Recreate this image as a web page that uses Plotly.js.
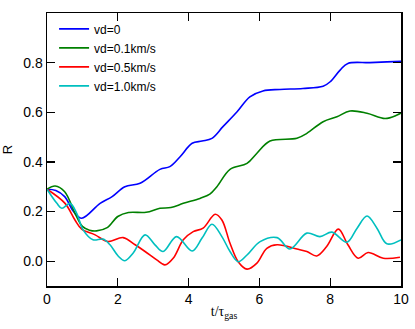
<!DOCTYPE html>
<html lang="en">
<head>
    <meta charset="UTF-8">
    <title>R vs t</title>
    <script src="https://cdn.plot.ly/plotly-3.0.1.min.js"></script>
    <style>
        body { margin: 0; padding: 0; background: #fff; }
        #grafico { width: 415px; height: 329px; }
    </style>
</head>
<body>
    <div id="grafico"></div>
    <script>
        // vd=0
        const tBlue = [0, 0.25, 0.5, 0.75, 0.98, 1.5, 1.84, 2.2, 2.63, 3.19, 3.47, 3.76, 4.1, 4.38, 4.66, 4.97, 5.37, 5.73, 6.1, 6.58, 7.23, 7.8, 8.0, 8.28, 8.5, 9.12, 9.6, 10];
        const rBlue = [0.29, 0.285, 0.26, 0.2, 0.173, 0.233, 0.26, 0.3, 0.314, 0.37, 0.381, 0.421, 0.475, 0.484, 0.495, 0.542, 0.602, 0.662, 0.686, 0.692, 0.696, 0.705, 0.723, 0.77, 0.797, 0.8, 0.803, 0.805];

        // vd=0.1km/s
        const tGreen = [0, 0.23, 0.5, 0.8, 1.0, 1.2, 1.4, 1.7, 2.0, 2.3, 2.8, 3.19, 3.5, 3.85, 4.32, 4.6, 4.8, 5.17, 5.65, 5.93, 6.3, 7.06, 7.34, 7.8, 8.19, 8.56, 9.04, 9.55, 9.89, 10];
        const rGreen = [0.29, 0.303, 0.28, 0.19, 0.14, 0.125, 0.122, 0.135, 0.18, 0.196, 0.197, 0.213, 0.216, 0.233, 0.253, 0.27, 0.3, 0.37, 0.394, 0.435, 0.484, 0.495, 0.515, 0.562, 0.582, 0.605, 0.596, 0.575, 0.589, 0.597];

        // vd=0.5km/s
        const tRed = [0, 0.51, 0.79, 0.98, 1.36, 1.72, 2.15, 2.49, 2.77, 3.1, 3.33, 3.57, 3.85, 4.13, 4.41, 4.75, 4.94, 5.17, 5.4, 5.65, 5.93, 6.21, 6.5, 7.06, 7.34, 7.62, 7.9, 8.23, 8.5, 8.79, 9.07, 9.5, 9.97];
        const rRed = [0.29, 0.233, 0.166, 0.129, 0.106, 0.079, 0.095, 0.066, 0.039, 0.005, -0.015, 0.013, 0.086, 0.119, 0.133, 0.189, 0.166, 0.072, -0.002, -0.032, -0.008, 0.052, 0.066, 0.049, 0.039, 0.021, 0.059, 0.129, 0.066, 0.012, 0.035, 0.012, 0.016];

        // vd=1.0km/s
        const tCyan = [0, 0.28, 0.42, 0.65, 0.84, 1.02, 1.3, 1.58, 1.78, 2.01, 2.2, 2.43, 2.77, 3.05, 3.28, 3.66, 4.1, 4.38, 4.66, 4.94, 5.17, 5.4, 5.65, 6.02, 6.5, 6.86, 7.34, 7.71, 8.05, 8.47, 8.76, 9.04, 9.32, 9.6, 10];
        const rCyan = [0.29, 0.233, 0.213, 0.233, 0.193, 0.126, 0.086, 0.089, 0.066, 0.021, 0.002, 0.032, 0.106, 0.066, 0.039, 0.099, 0.041, 0.093, 0.149, 0.099, 0.039, -0.002, 0.025, 0.079, 0.095, 0.049, 0.113, 0.099, 0.117, 0.076, 0.133, 0.182, 0.133, 0.07, 0.086];

        const nomes = ['vd=0', 'vd=0.1km/s', 'vd=0.5km/s', 'vd=1.0km/s'];
        const cores = ['#0000ff', '#008000', '#ff0000', '#00bfbf'];
        const xs = [tBlue, tGreen, tRed, tCyan];
        const ys = [rBlue, rGreen, rRed, rCyan];

        const data = nomes.map((nome, i) => ({
            x: xs[i],
            y: ys[i],
            name: nome,
            type: 'scatter',
            mode: 'lines',
            line: { color: cores[i], width: 1.6, shape: 'spline', smoothing: 1 }
        }));

        const eixo = {
            showgrid: false,
            zeroline: false,
            showline: true,
            linecolor: '#000',
            linewidth: 1.5,
            mirror: 'ticks',
            ticks: 'inside',
            ticklen: 8,
            tickwidth: 1.2,
            tickcolor: '#000',
            tickfont: { family: 'Liberation Sans, Arial, sans-serif', size: 14, color: '#000' }
        };

        const layout = {
            width: 415,
            height: 329,
            margin: { l: 47, r: 14, t: 13, b: 43 },
            paper_bgcolor: '#fff',
            plot_bgcolor: '#fff',
            showlegend: true,
            legend: {
                x: 0.02, y: 0.995, xanchor: 'left', yanchor: 'top',
                bgcolor: 'rgba(0,0,0,0)',
                font: { family: 'Liberation Sans, Arial, sans-serif', size: 12, color: '#000' },
                tracegroupgap: 0
            },
            xaxis: Object.assign({}, eixo, {
                range: [0, 10],
                tickvals: [0, 2, 4, 6, 8, 10],
                title: { text: 't/τ<sub>gas</sub>', font: { family: 'Liberation Serif, serif', size: 14, color: '#000' }, standoff: 0 }
            }),
            yaxis: Object.assign({}, eixo, {
                range: [-0.1, 1.0],
                tickvals: [0, 0.2, 0.4, 0.6, 0.8],
                tickformat: '.1f',
                title: { text: 'R', font: { family: 'Liberation Sans, Arial, sans-serif', size: 13, color: '#000' }, standoff: 8 }
            })
        };

        Plotly.newPlot('grafico', data, layout, { displayModeBar: false, staticPlot: true });
    </script>
</body>
</html>
